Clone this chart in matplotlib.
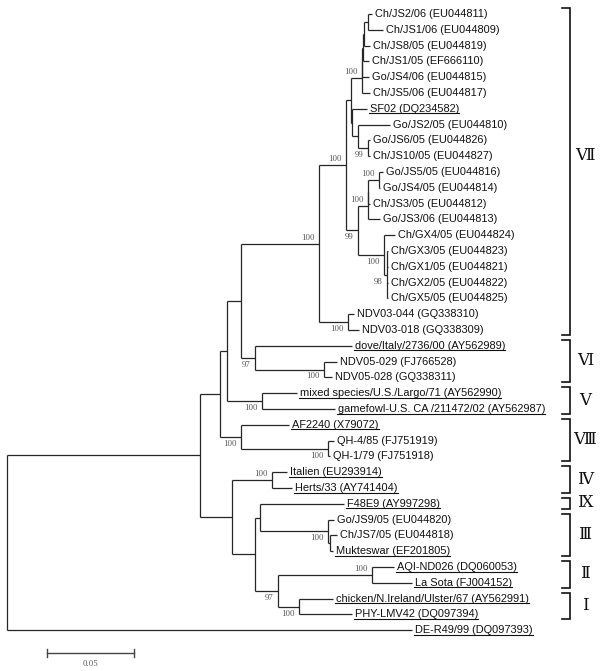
import re
import matplotlib
matplotlib.use('Agg')
import matplotlib.pyplot as plt
from matplotlib.transforms import blended_transform_factory

# leaf labels, top to bottom
strains = [
    'Ch/JS2/06', 'Ch/JS1/06', 'Ch/JS8/05', 'Ch/JS1/05', 'Go/JS4/06', 'Ch/JS5/06',
    'SF02', 'Go/JS2/05', 'Go/JS6/05', 'Ch/JS10/05', 'Go/JS5/05', 'Go/JS4/05',
    'Ch/JS3/05', 'Go/JS3/06', 'Ch/GX4/05', 'Ch/GX3/05', 'Ch/GX1/05', 'Ch/GX2/05',
    'Ch/GX5/05', 'NDV03-044', 'NDV03-018', 'dove/Italy/2736/00', 'NDV05-029',
    'NDV05-028', 'mixed species/U.S./Largo/71', 'gamefowl-U.S. CA /211472/02',
    'AF2240', 'QH-4/85', 'QH-1/79', 'Italien', 'Herts/33', 'F48E9', 'Go/JS9/05',
    'Ch/JS7/05', 'Mukteswar', 'AQI-ND026', 'La Sota', 'chicken/N.Ireland/Ulster/67',
    'PHY-LMV42', 'DE-R49/99',
]
accessions = [
    'EU044811', 'EU044809', 'EU044819', 'EF666110', 'EU044815', 'EU044817',
    'DQ234582', 'EU044810', 'EU044826', 'EU044827', 'EU044816', 'EU044814',
    'EU044812', 'EU044813', 'EU044824', 'EU044823', 'EU044821', 'EU044822',
    'EU044825', 'GQ338310', 'GQ338309', 'AY562989', 'FJ766528', 'GQ338311',
    'AY562990', 'AY562987', 'X79072', 'FJ751919', 'FJ751918', 'EU293914',
    'AY741404', 'AY997298', 'EU044820', 'EU044818', 'EF201805', 'DQ060053',
    'FJ004152', 'AY562991', 'DQ097394', 'DQ097393',
]
# reference strains (underlined in the figure)
underlined = ['DQ234582', 'AY562989', 'AY562990', 'AY562987', 'X79072', 'EU293914',
              'AY741404', 'AY997298', 'EF201805', 'DQ060053', 'FJ004152', 'AY562991',
              'DQ097394', 'DQ097393']

# NJ tree pieces, branch lengths in substitutions/site, internal labels = bootstrap
g7_js = ("(((((EU044811:0.0023,EU044809:0.0086):0.0023,EU044819:0.0034):0.0006,"
         "EF666110:0.0034):0.0003,EU044815:0.0037):0.0003,EU044817:0.0046)100:0.0063")
g7_sf = "(DQ234582:0.0086,(EU044810:0.0184,(EU044826:0.0011,EU044827:0.0011)99:0.0057):0.0034):0.0006"
g7_go = "(((EU044816:0.0023,EU044814:0.0006)100:0.0060,EU044812:0.0009):0.0003,EU044813:0.0069)100:0.0057"
g7_gx = "(EU044824:0.0063,(EU044823:0.0006,EU044821:0.0006,EU044822:0.0006,EU044825:0.0006)98:0.0017)100:0.0149"
g7_ndv = "(GQ338310:0.0034,GQ338309:0.0063)100:0.0167"
g7 = f"((({g7_js},{g7_sf}):0.0029,({g7_go},{g7_gx})99:0.0069)100:0.0155,{g7_ndv})100:0.0448"
g6 = "(AY562989:0.0557,(FJ766528:0.0075,GQ338311:0.0046)100:0.0397)97:0.0080"
g5 = "(AY562990:0.0201,AY562987:0.0420)100:0.0201"
g8 = "(X79072:0.0276,(FJ751919:0.0034,FJ751918:0.0011)100:0.0500)100:0.0121"
g4 = "(EU293914:0.0086,AY741404:0.0115)100:0.0230"
g9_3 = "(AY997298:0.0483,(EU044820:0.0034,(EU044818:0.0040,EF201805:0.0017):0.0011)100:0.0391):0.0029"
g2_1 = "((DQ060053:0.0126,FJ004152:0.0230)100:0.0540,(AY562991:0.0195,DQ097394:0.0305)100:0.0121)97:0.0132"
tree = (f"((((({g7},{g6}):0.0080,{g5}):0.0040,{g8}):0.0115,"
        f"({g4},({g9_3},{g2_1}):0.0132):0.0184):0.1109,DQ097393:0.2328);")

# genotype brackets
clades = ['Ⅶ', 'Ⅵ', 'Ⅴ', 'Ⅷ', 'Ⅳ', 'Ⅸ', 'Ⅲ', 'Ⅱ', 'Ⅰ']
clade_first = ['EU044811', 'AY562989', 'AY562990', 'X79072', 'EU293914', 'AY997298',
               'EU044820', 'DQ060053', 'AY562991']
clade_last = ['GQ338309', 'GQ338311', 'AY562987', 'FJ751918', 'AY741404', 'AY997298',
              'EF201805', 'FJ004152', 'DQ097394']

scale_len = 0.05
scale_label = '0.05'

# layout: pixels per unit of distance and per leaf row
PX = 1740.0
ROW = 15.8
X0 = 7
Y0 = 14
W, H = 600, 671
LINE = '#262626'


def parse_newick(s):
    tokens = re.findall(r"[(),:;]|[^(),:;]+", s)
    pos = 0

    def node():
        nonlocal pos
        n = {'children': [], 'name': '', 'length': 0.0}
        if tokens[pos] == '(':
            pos += 1
            n['children'].append(node())
            while tokens[pos] == ',':
                pos += 1
                n['children'].append(node())
            pos += 1
        if tokens[pos] not in '(),:;':
            n['name'] = tokens[pos].strip()
            pos += 1
        if tokens[pos] == ':':
            n['length'] = float(tokens[pos + 1])
            pos += 2
        return n
    return node()


def layout(n, x0, rows):
    n['x'] = x0 + n['length']
    if n['children']:
        for c in n['children']:
            layout(c, n['x'], rows)
        n['y'] = (n['children'][0]['y'] + n['children'][-1]['y']) / 2
    else:
        n['y'] = rows[n['name']]


rows = {acc: i for i, acc in enumerate(accessions)}
root = parse_newick(tree)
layout(root, 0.0, rows)

fig = plt.figure(figsize=(W / 100, H / 100), dpi=100)
ax = fig.add_axes([0, 0, 1, 1])
ax.set_xlim(-X0 / PX, (W - X0) / PX)
ax.set_ylim((H - Y0) / ROW, -Y0 / ROW)
ax.axis('off')

leaf_texts = {}


def draw(n):
    kids = n['children']
    if not kids:
        acc = n['name']
        i = rows[acc]
        t = ax.text(n['x'] + 3 / PX, n['y'], f"{strains[i]} ({acc})", fontsize=7.9,
                    family='Liberation Sans', va='center', ha='left', color='#111111')
        leaf_texts[acc] = t
        return
    ax.plot([n['x'], n['x']], [kids[0]['y'], kids[-1]['y']], color=LINE, lw=0.9,
            solid_capstyle='butt')
    for k, c in enumerate(kids):
        ax.plot([n['x'], c['x']], [c['y'], c['y']], color=LINE, lw=0.9,
                solid_capstyle='butt')
        if c['children'] and c['name']:
            if k == 0:
                ax.text(c['x'] - 4 / PX, c['y'] - 2 / ROW, c['name'], fontsize=6.3,
                        family='Liberation Serif', color='#555555', ha='right', va='bottom')
            else:
                ax.text(c['x'] - 4 / PX, c['y'] + 3 / ROW, c['name'], fontsize=6.3,
                        family='Liberation Serif', color='#555555', ha='right', va='top')
        draw(c)


draw(root)

# underline the reference strains
fig.canvas.draw()
inv = ax.transData.inverted()
for acc in underlined:
    bb = leaf_texts[acc].get_window_extent()
    (xa, ya), (xb, _) = inv.transform([(bb.x0 - 1, bb.y0 + 0.5), (bb.x1, bb.y0 + 0.5)])
    ax.plot([xa, xb], [ya, ya], color='#111111', lw=0.8)

# genotype brackets on the right
tr = blended_transform_factory(ax.transAxes, ax.transData)
bx, tick = 570 / W, 562 / W
label_shift = {'Ⅶ': -15}
for name, a, b in zip(clades, clade_first, clade_last):
    y1 = rows[a] - 6 / ROW
    y2 = rows[b] + 5 / ROW
    ax.plot([tick, bx, bx, tick], [y1, y1, y2, y2], color='#111111', lw=1.2,
            transform=tr, solid_joinstyle='miter')
    ym = (y1 + y2) / 2 + label_shift.get(name, 0) / ROW
    ax.text(585 / W, ym, name, transform=tr, fontsize=12, ha='center', va='center',
            family=['Liberation Serif', 'DejaVu Serif', 'Noto Sans CJK SC'], color='#111111')

# scale bar
sx = 40 / PX
sy = (653 - Y0) / ROW
ax.plot([sx, sx + scale_len], [sy, sy], color='#444444', lw=1.0)
for xx in (sx, sx + scale_len):
    ax.plot([xx, xx], [sy - 4 / ROW, sy + 4 / ROW], color='#444444', lw=1.0)
ax.text(sx + scale_len / 2, (664 - Y0) / ROW, scale_label, fontsize=6.3,
        family='Liberation Serif', color='#555555', ha='center', va='center')

fig.savefig('out.png', dpi=100)
